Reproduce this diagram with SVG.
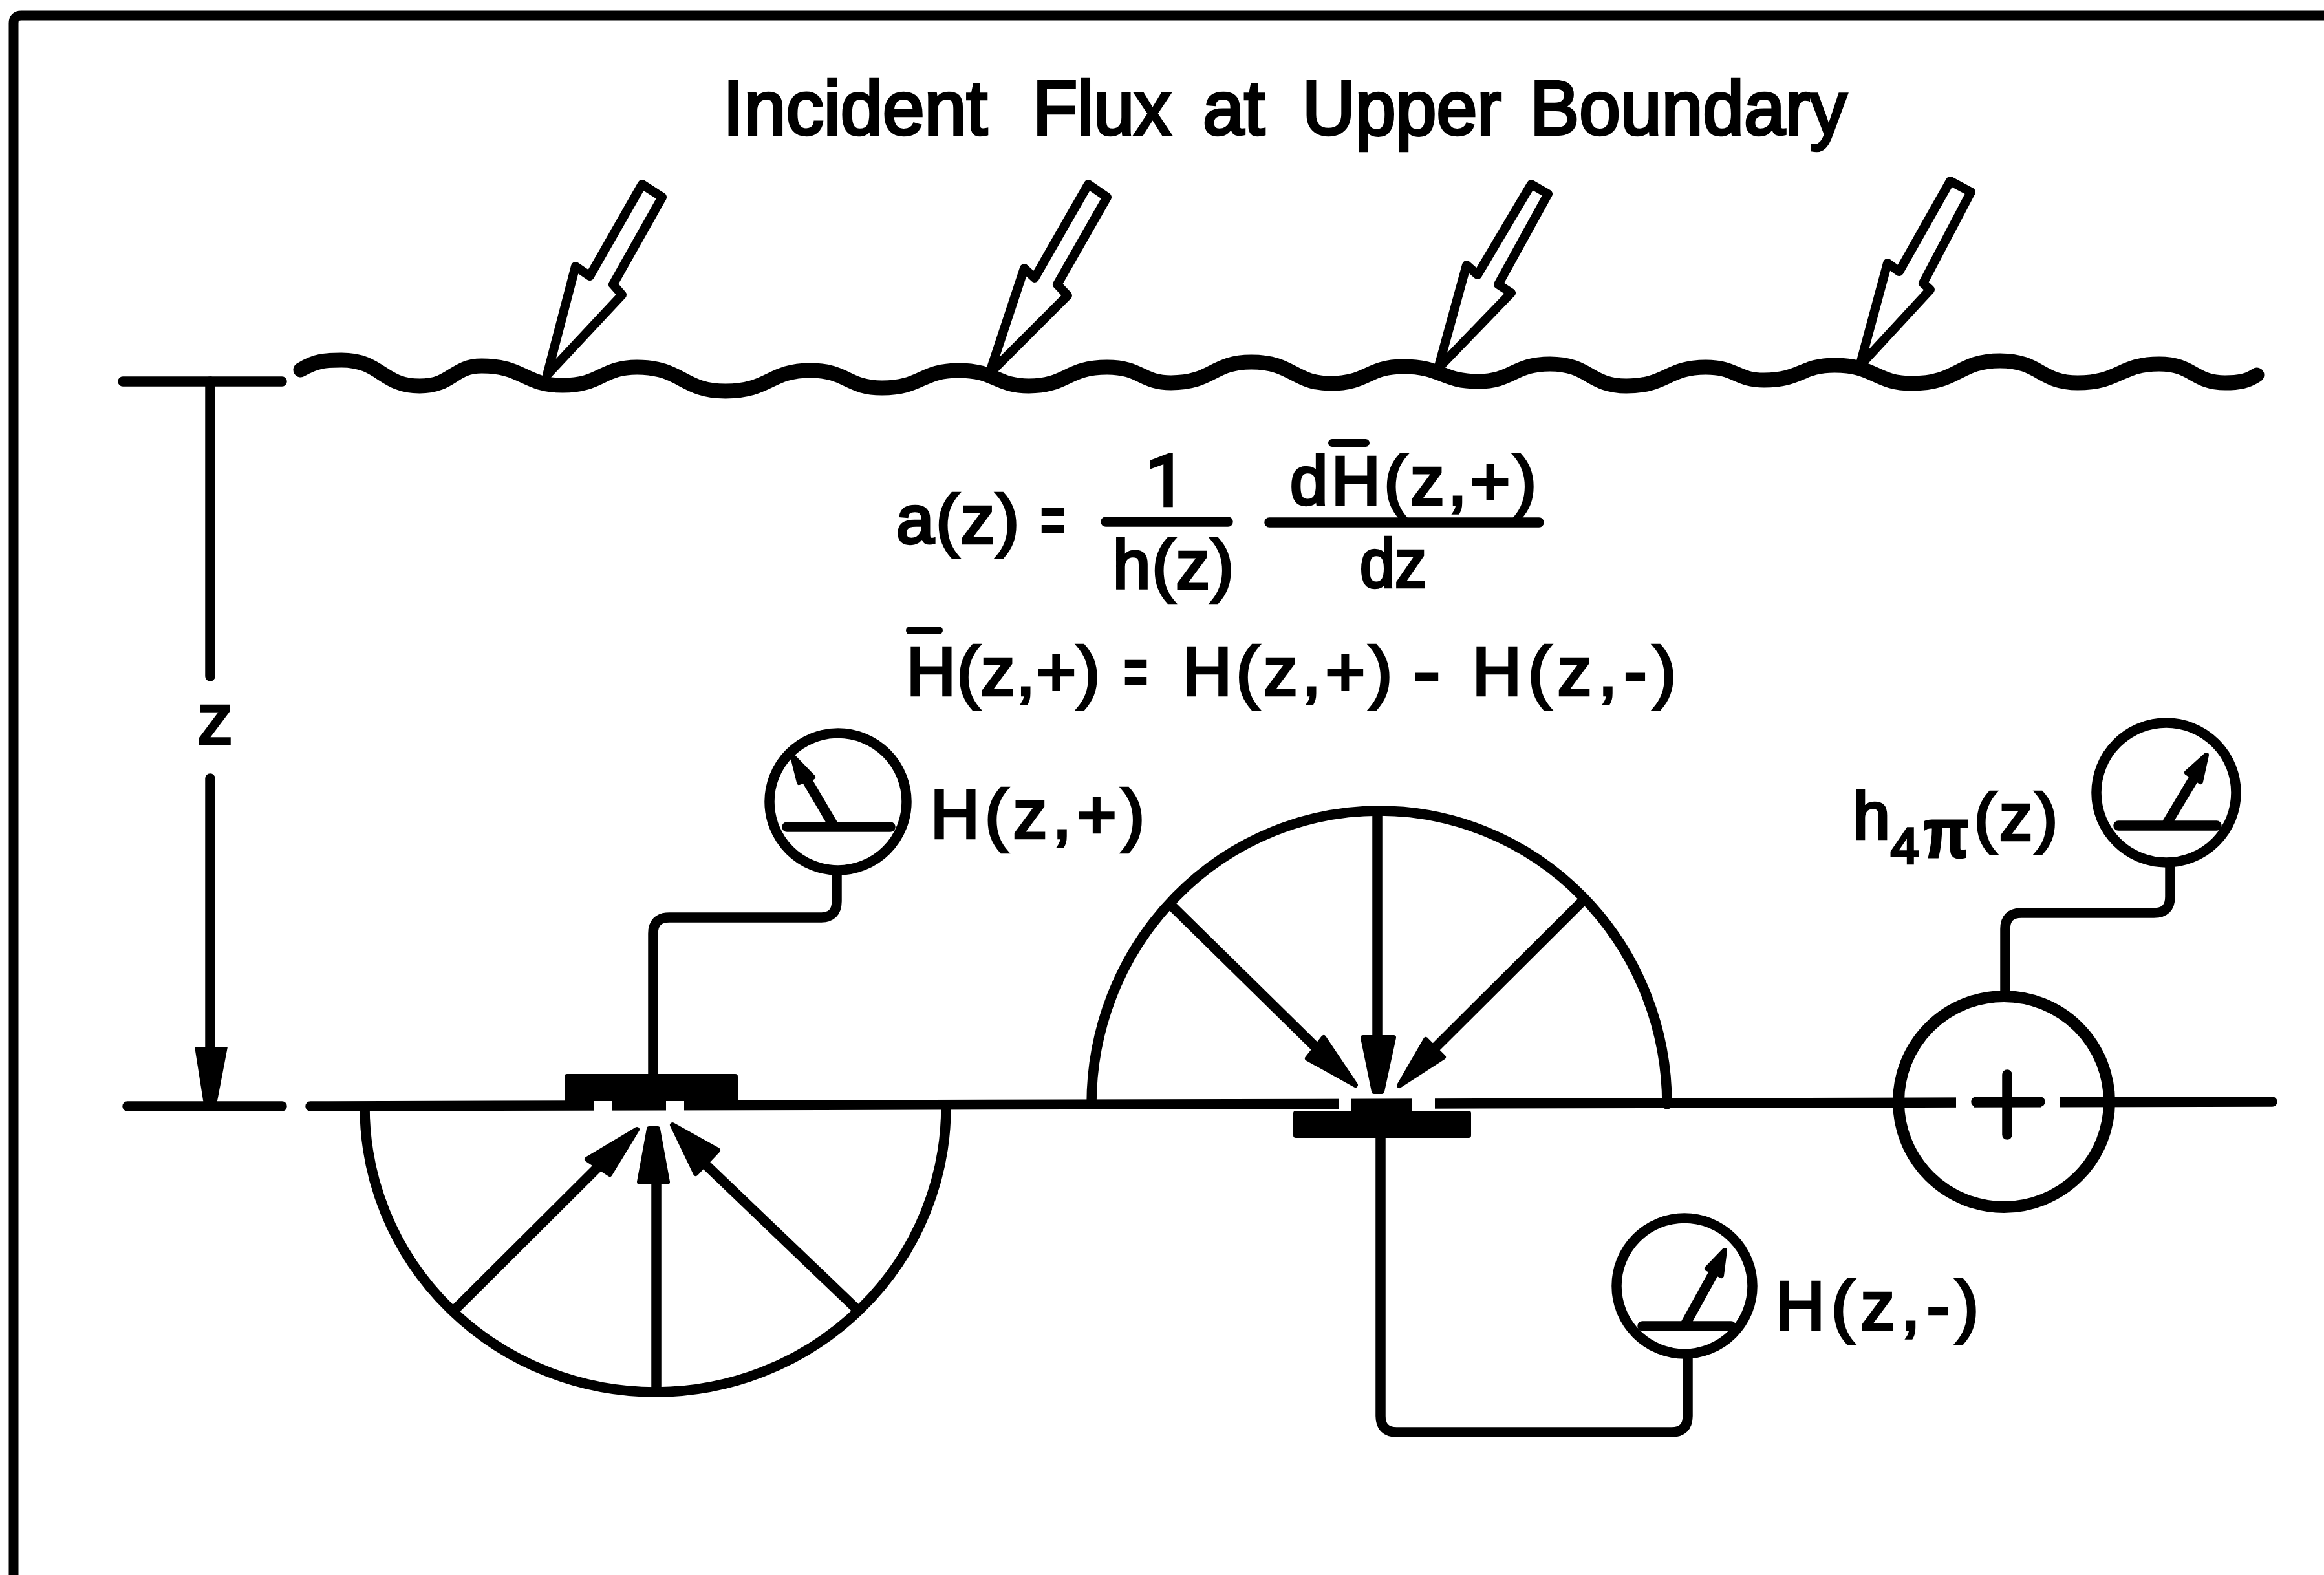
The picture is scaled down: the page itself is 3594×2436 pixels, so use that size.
<svg xmlns="http://www.w3.org/2000/svg" width="3594" height="2436" viewBox="0 0 3594 2436">
<style>
.ln{fill:none;stroke:#000;stroke-width:15.5;stroke-linecap:round;stroke-linejoin:round}
.thick{stroke-width:18}
.wave{stroke-width:23}
.flux{fill:#fff;stroke:#000;stroke-width:14;stroke-linejoin:round}
.head{fill:#000;stroke:#000;stroke-width:8;stroke-linejoin:round}
.gap{fill:#fff}
.blk{fill:#000}
text{font-family:"Liberation Sans",Arial,sans-serif;fill:#000;stroke:#000;stroke-width:4.5}
.t{font-size:118px}
.f{font-size:105px}
</style>
<rect width="3594" height="2436" fill="#fff"/>
<path id="frame" class="ln" style="stroke-width:15;stroke-linecap:butt" d="M21,2436V36Q21,24 33,24H3594"/>

<g id="title"><text class="t" y="208"><tspan x="1118" textLength="409" lengthAdjust="spacingAndGlyphs">Incident</tspan> <tspan x="1597" textLength="214" lengthAdjust="spacingAndGlyphs">Flux</tspan> <tspan x="1860" textLength="96" lengthAdjust="spacingAndGlyphs">at</tspan> <tspan x="2014" textLength="308" lengthAdjust="spacingAndGlyphs">Upper</tspan> <tspan x="2366" textLength="490" lengthAdjust="spacingAndGlyphs">Boundary</tspan></text></g>

<g id="surface">
<path class="ln wave" d="M465,572C490,557 505,557 528,557C590,557 590,597 649,597C700,597 700,566 745,566C810,566 810,596 870,596C930,596 930,568 985,568C1055,568 1055,605 1122,605C1190,605 1190,573 1253,573C1310,573 1310,600 1364,600C1425,600 1425,573 1482,573C1540,573 1540,597 1591,597C1650,597 1650,568 1712,568C1765,568 1765,592 1811,592C1875,592 1875,560 1935,560C2000,560 2000,593 2058,593C2115,593 2115,567 2170,567C2230,567 2230,590 2285,590C2340,590 2340,563 2397,563C2458,563 2458,597 2515,597C2578,597 2578,568 2638,568C2685,568 2685,588 2728,588C2785,588 2785,565 2837,565C2900,565 2900,593 2957,593C3028,593 3028,558 3093,558C3155,558 3155,592 3213,592C3278,592 3278,563 3339,563C3392,563 3392,592 3441,592C3462,592 3475,590 3490,580"/>
</g>

<g id="flux-arrows">
<polygon id="flux-1" class="flux" points="846,580 890,412 912,427 993,285 1024,305 948,440 962,456"/>
<polygon id="flux-2" class="flux" points="1530,578 1584,415 1600,430 1683,285 1712,305 1635,440 1651,457"/>
<polygon id="flux-3" class="flux" points="2224,570 2268,410 2285,425 2368,285 2394,300 2317,440 2337,453"/>
<polygon id="flux-4" class="flux" points="2876,566 2919,407 2937,420 3016,280 3048,297 2974,438 2985,448"/>
</g>

<g id="depth-dimension">
<path class="ln" d="M190,590H436"/>
<path class="ln" d="M325,590V1046M325,1204V1625"/>
<polygon class="blk" points="301,1619 352,1619 335,1708 315,1708"/>
<text style="font-size:110px" x="305" y="1150" textLength="42">z</text>
<path class="ln" d="M197,1711H436"/>
</g>

<g id="connectors">
<path class="ln" d="M480,1711L3514,1704"/>
<path class="ln" d="M1294,1353V1394Q1294,1419 1269,1419H1035Q1010,1419 1010,1444V1661"/>
<path class="ln" d="M2135,1759V2190Q2135,2215 2160,2215H2585Q2610,2215 2610,2190V2101"/>
<path class="ln" d="M3356,1340V1387Q3356,1412 3331,1412H3126Q3101,1412 3101,1437V1532"/>
</g>

<g id="lower-hemisphere">
<path class="ln" d="M564,1712A449.5,441 0 0 0 1463,1712"/>
<path class="ln" d="M704,2025L930,1800M1015,2146V1825M1323,2023L1090,1800"/>
<polygon class="head" points="985,1747 908,1793 943,1816"/>
<polygon class="head" points="1004,1746 1017,1746 1032,1828 989,1828"/>
<polygon class="head" points="1040,1740 1110,1779 1076,1815"/>
</g>

<g id="upper-hemisphere">
<path class="ln" d="M1688,1708A445,454 0 0 1 2578,1708"/>
<path class="ln" d="M1809,1398L2035,1620M2130,1260V1610M2447,1394L2220,1620"/>
<polygon class="head" points="2096,1678 2047,1605 2022,1637"/>
<polygon class="head" points="2125,1688 2137,1688 2155,1605 2108,1605"/>
<polygon class="head" points="2164,1679 2205,1608 2232,1635"/>
</g>

<g id="sensor-upward">
<rect class="blk" x="873" y="1661" width="268" height="45" rx="4"/>
<rect class="gap" x="919" y="1703" width="27" height="16"/>
<rect class="gap" x="1030" y="1703" width="28" height="16"/>
</g>

<g id="sensor-downward">
<rect class="blk" x="2000" y="1718" width="275" height="42" rx="4"/>
<rect class="blk" x="2090" y="1702" width="94" height="18"/>
<rect class="gap" x="2071" y="1699" width="19" height="19"/>
<rect class="gap" x="2184" y="1699" width="35" height="19"/>
</g>

<g id="meter-plus">
<circle class="ln" cx="1296" cy="1240" r="106"/>
<path class="ln" d="M1217,1279H1377M1288,1275L1238,1190"/>
<polygon class="head" points="1226,1170 1257,1202 1236,1210"/>
<text class="f" y="1296" x="1439" textLength="331">H(z,+)</text>
</g>

<g id="meter-minus">
<circle class="ln" cx="2605" cy="1989" r="105"/>
<path class="ln" d="M2540,2051H2677M2607,2047L2655,1960"/>
<polygon class="head" points="2667,1934 2640,1962 2662,1973"/>
<text class="f" y="2056" x="2746" textLength="314">H(z,-)</text>
</g>

<g id="meter-4pi">
<circle class="ln" cx="3350" cy="1226" r="108"/>
<path class="ln" d="M3276,1277H3428M3352,1272L3395,1200"/>
<polygon class="head" points="3412,1168 3382,1195 3403,1209"/>
<text style="font-size:102px" y="1297"><tspan x="2866">h</tspan><tspan x="2924" y="1335" style="font-size:78px">4</tspan><tspan x="2975" y="1324" style="font-size:100px;stroke-width:7" textLength="68">π</tspan><tspan x="3053" y="1299" textLength="129">(z)</tspan></text>
</g>

<g id="collector">
<circle class="ln thick" cx="3099" cy="1704" r="163"/>
<rect class="gap" x="3025" y="1690" width="28" height="28"/>
<rect class="gap" x="3157" y="1690" width="28" height="28"/>
<path class="ln" d="M3104,1662V1755M3056,1704H3155"/>
</g>

<g id="equations">
<text class="f" y="840"><tspan x="1386" textLength="190">a(z)</tspan> <tspan x="1609" textLength="38" lengthAdjust="spacingAndGlyphs">=</tspan></text>
<text class="f" x="1772" y="782" style="font-family:Roboto,'Liberation Sans',sans-serif;font-size:111px">1</text>
<path class="ln" d="M1710,807H1899M1963,808H2380"/>
<text class="f" x="1721" y="910" textLength="187">h(z)</text>
<text class="f" x="1995" y="780" textLength="381">dH(z,+)</text>
<path class="ln" style="stroke-width:12" d="M2060,685H2112"/>
<text class="f" x="2103" y="908" textLength="103" lengthAdjust="spacingAndGlyphs">dz</text>
<path class="ln" style="stroke-width:12" d="M1407,975H1452"/>
<text class="f" y="1075"><tspan x="1402" textLength="299">H(z,+)</tspan> <tspan x="1738" textLength="37" lengthAdjust="spacingAndGlyphs">=</tspan> <tspan x="1829" textLength="324">H(z,+)</tspan> <tspan x="2186" textLength="41" lengthAdjust="spacingAndGlyphs">-</tspan> <tspan x="2277" textLength="315">H(z,-)</tspan></text>
</g>
</svg>
